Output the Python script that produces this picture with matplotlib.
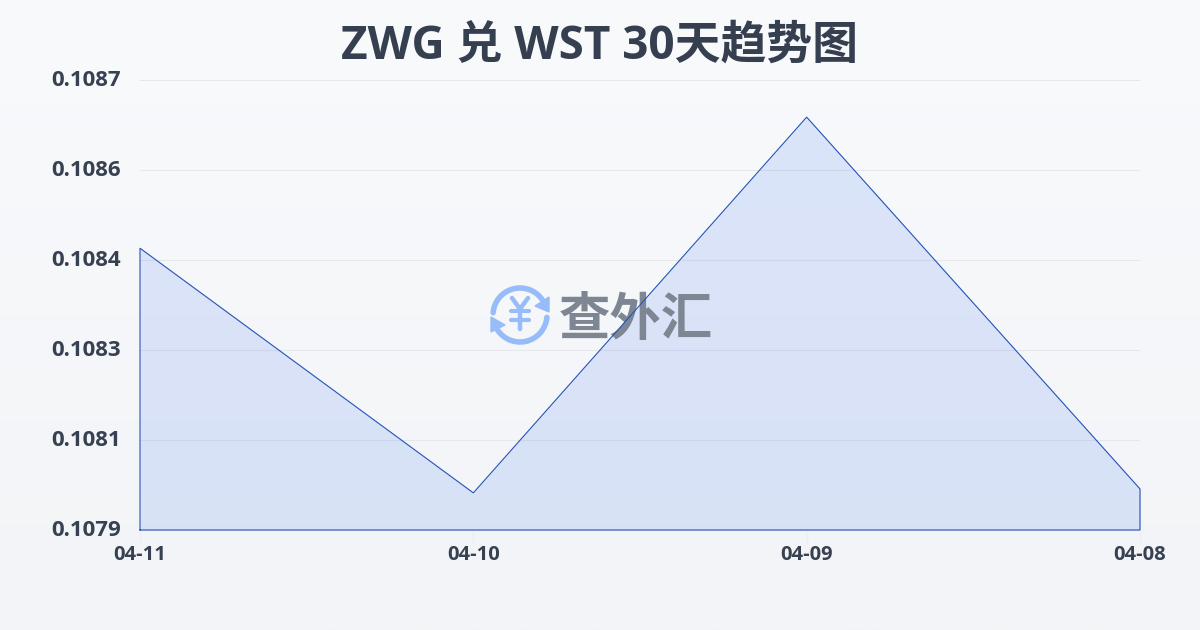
import numpy as np
import matplotlib
matplotlib.use("Agg")
import matplotlib.pyplot as plt
from matplotlib.patches import Arc, Polygon
from matplotlib.transforms import ScaledTranslation

plt.rcParams['font.family'] = ['Open Sans', 'Noto Sans CJK SC', 'DejaVu Sans']

# Data
dates = ["04-11", "04-10", "04-09", "04-08"]
rates = [0.108441, 0.108006, 0.108674, 0.108013]
y_ticks = [0.10794, 0.10810, 0.10826, 0.10842, 0.10858, 0.10874]

TEXT = '#374151'
LINE = '#2453b8'

fig = plt.figure(figsize=(12, 6.3), dpi=100)

# Page background, light vertical gradient
bg = fig.add_axes([0, 0, 1, 1], zorder=0)
bg.imshow(np.linspace(0, 1, 256).reshape(-1, 1), aspect='auto', extent=[0, 1200, 630, 0],
          cmap=matplotlib.colors.LinearSegmentedColormap.from_list('bg', ['#f8fafc', '#f2f4f7']))
bg.set_xlim(0, 1200)
bg.set_ylim(630, 0)
bg.axis('off')

# Main chart: grid, ticks and area fill
rect = [140 / 1200, 1 - 530 / 630, 1000 / 1200, 450 / 630]
ax = fig.add_axes(rect, zorder=1)
ax.patch.set_alpha(0)
x = np.arange(len(dates))
ax.fill_between(x, rates, y_ticks[0], color='#2563eb', alpha=0.13, linewidth=0, zorder=3)
ax.set_xlim(x[0], x[-1])
ax.set_ylim(y_ticks[0], y_ticks[-1])
ax.set_yticks(y_ticks)
ax.set_yticklabels([f"{v:.4f}" for v in y_ticks], fontsize=16, fontweight='bold', color=TEXT)
ax.set_xticks(x)
ax.set_xticklabels(dates, fontsize=14.5, fontweight='bold', color=TEXT)
ax.tick_params(axis='y', length=0, pad=13.5)
ax.tick_params(axis='x', length=10, width=1, color='#eceff3', pad=0.5)
ax.grid(axis='y', color='#e5e7eb', linewidth=0.8, zorder=1)
for spine in ax.spines.values():
    spine.set_visible(False)
# y labels sit about 2px above their gridlines
up = ScaledTranslation(0, 2 / 100, fig.dpi_scale_trans)
for lab in ax.get_yticklabels():
    lab.set_transform(lab.get_transform() + up)

# Title
fig.text(0.5, 1 - 46.5 / 630, "ZWG 兑 WST 30天趋势图", ha='center', va='center',
         fontsize=33, fontweight='bold', color='#353f50')

# Watermark sits over the fill but under the chart line
wm = fig.add_axes([0, 0, 1, 1], zorder=2)
wm.set_xlim(0, 1200)
wm.set_ylim(630, 0)
wm.axis('off')
BLUE = '#97bcf9'
wm.add_patch(Arc((520, 315), 54, 54, theta1=185, theta2=325, color=BLUE, linewidth=4, capstyle='round'))
wm.add_patch(Arc((520, 315), 54, 54, theta1=5, theta2=150, color=BLUE, linewidth=4, capstyle='round'))
wm.add_patch(Polygon([[549, 297], [549, 312], [535, 306]], color=BLUE))
wm.add_patch(Polygon([[491, 317], [505, 325], [491, 332]], color=BLUE))
wm.plot([512, 520, 528], [298, 309, 298], color=BLUE, linewidth=3.2, solid_capstyle='round')
wm.plot([511, 529], [311, 311], color=BLUE, linewidth=3, solid_capstyle='round')
wm.plot([511, 529], [320, 320], color=BLUE, linewidth=3, solid_capstyle='round')
wm.plot([520, 520], [309, 329], color=BLUE, linewidth=3.2, solid_capstyle='round')
wm.text(635.5, 322, "查外汇", ha='center', va='center', fontsize=37, fontweight='bold', color='#7f8693')

# Outline of the area on its own layer
top = fig.add_axes(rect, zorder=3)
top.patch.set_alpha(0)
top.axis('off')
top.plot(np.r_[x[0], x, x[-1], x[0]], np.r_[y_ticks[0], rates, y_ticks[0], y_ticks[0]],
         color=LINE, linewidth=0.8, solid_joinstyle='miter', clip_on=False)
top.set_xlim(x[0], x[-1])
top.set_ylim(y_ticks[0], y_ticks[-1])

fig.savefig('out.png', dpi=100)
